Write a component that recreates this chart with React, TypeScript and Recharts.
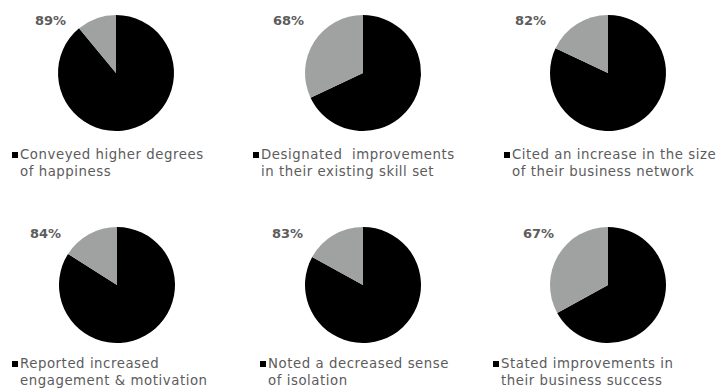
import { PieChart, Pie, Cell, Legend } from 'recharts';

// share of respondents per outcome (remainder drawn in grey)
const shares = [89, 68, 82, 84, 83, 67];
const pctLabels = ['89%', '68%', '82%', '84%', '83%', '67%'];
const legendLines = [
    ['Conveyed higher degrees', 'of happiness'],
    ['Designated  improvements', 'in their existing skill set'],
    ['Cited an increase in the size', 'of their business network'],
    ['Reported increased', 'engagement & motivation'],
    ['Noted a decreased sense', 'of isolation'],
    ['Stated improvements in', 'their business success'],
];

const COLORS = ['#000000', '#a0a2a2'];
const TEXT = '#5c5c5c';
const FONT = '"DejaVu Sans", sans-serif';

// per-cell layout: cell origin, pie center, label & legend spots
const cells = [
    { x: 0, y: 0, cx: 116, cy: 73, lx: 35, ly: 13, gx: 12, gy: 146 },
    { x: 240, y: 0, cx: 123, cy: 73, lx: 33, ly: 13, gx: 13, gy: 146 },
    { x: 480, y: 0, cx: 128, cy: 73, lx: 35, ly: 13, gx: 24, gy: 146 },
    { x: 0, y: 195, cx: 117, cy: 90, lx: 30, ly: 31, gx: 12, gy: 160 },
    { x: 240, y: 195, cx: 123, cy: 90, lx: 32, ly: 31, gx: 20, gy: 160 },
    { x: 480, y: 195, cx: 128, cy: 90, lx: 43, ly: 31, gx: 13, gy: 160 },
];

function LegendBox({ lines }: { lines: string[] }) {
    return (
        <div style={{ fontFamily: FONT, fontSize: 13.3, letterSpacing: 0.55, color: TEXT, lineHeight: '17px', position: 'relative', paddingLeft: 8 }}>
            <span style={{ position: 'absolute', left: 0, top: 6, width: 6, height: 6, background: '#000' }} />
            <div style={{ whiteSpace: 'pre' }}>{lines[0]}</div>
            <div style={{ whiteSpace: 'pre' }}>{lines[1]}</div>
        </div>
    );
}

export default function App() {
    return (
        <div style={{ position: 'absolute', left: 0, top: 0, width: 719, height: 391, background: '#fff', overflow: 'hidden' }}>
            {shares.map((s, i) => {
                const c = cells[i];
                const data = [
                    { name: legendLines[i].join(' '), value: s },
                    { name: 'other', value: 100 - s },
                ];
                return (
                    <div key={i} style={{ position: 'absolute', left: c.x, top: c.y, width: 240, height: 196 }}>
                        <PieChart width={240} height={196} margin={{ top: 0, right: 0, bottom: 0, left: 0 }}>
                            <Pie
                                data={data}
                                dataKey="value"
                                cx={c.cx}
                                cy={c.cy}
                                outerRadius={58}
                                startAngle={90}
                                endAngle={-270}
                                stroke="none"
                                isAnimationActive={false}
                            >
                                {data.map((_, j) => (
                                    <Cell key={j} fill={COLORS[j]} />
                                ))}
                            </Pie>
                            <Legend
                                wrapperStyle={{ position: 'absolute', left: c.gx, top: c.gy, width: 240 }}
                                content={() => <LegendBox lines={legendLines[i]} />}
                            />
                        </PieChart>
                        <div
                            style={{
                                position: 'absolute',
                                left: c.lx,
                                top: c.ly,
                                fontFamily: FONT,
                                fontWeight: 'bold',
                                fontSize: 13,
                                color: TEXT,
                            }}
                        >
                            {pctLabels[i]}
                        </div>
                    </div>
                );
            })}
        </div>
    );
}
